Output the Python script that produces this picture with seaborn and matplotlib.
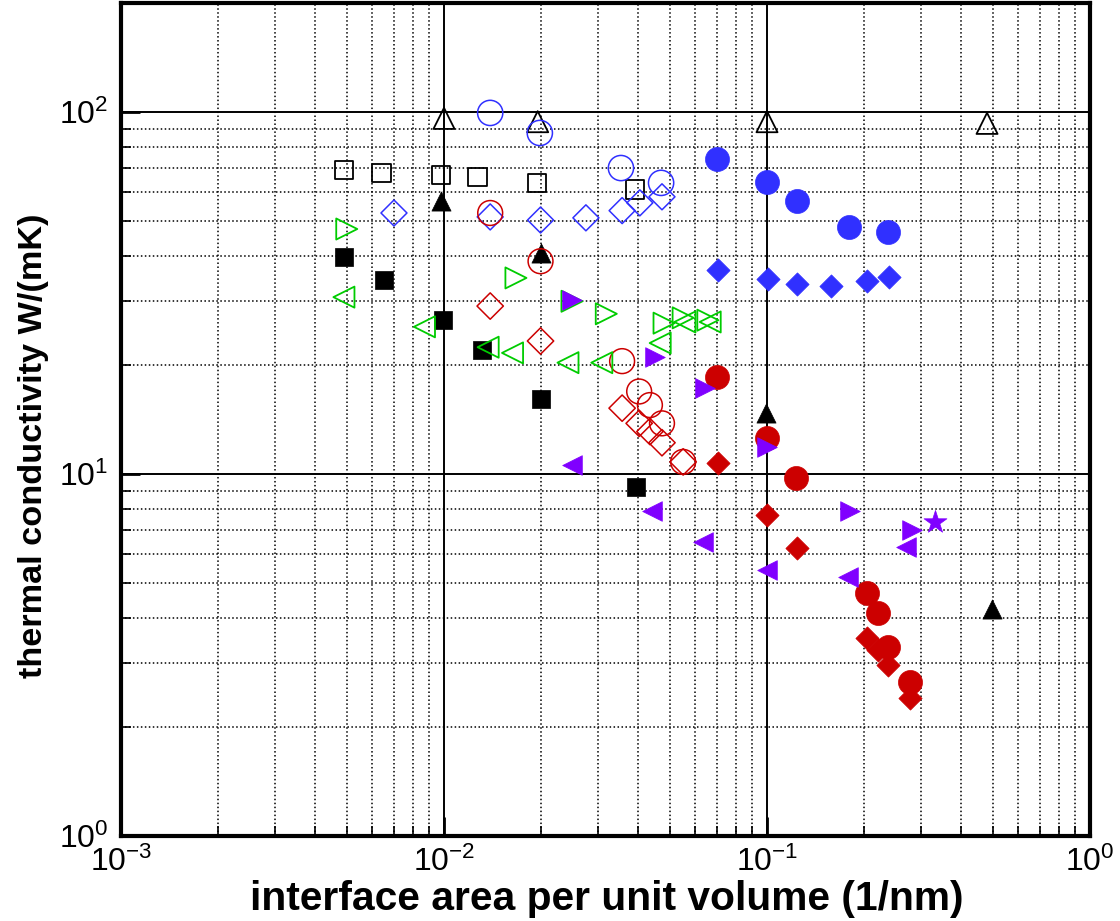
import numpy as np
import matplotlib
matplotlib.use("Agg")
import matplotlib.pyplot as plt
import seaborn as sns
from matplotlib.ticker import LogLocator, LogFormatterSciNotation, NullFormatter

# ---- data: interface density (1/nm) vs thermal conductivity W/(mK) ----
blk_open_tri_x = [0.01, 0.0195, 0.1, 0.48]
blk_open_tri_y = [96, 94, 94, 93]

blk_fill_tri_x = [0.0098, 0.0199, 0.099, 0.498]
blk_fill_tri_y = [56.8, 40.7, 14.7, 4.24]

blk_open_sq_x = [0.0049, 0.0064, 0.0098, 0.0127, 0.0194, 0.039]
blk_open_sq_y = [69.2, 67.8, 67.0, 66.1, 63.7, 61.0]

blk_fill_sq_x = [0.0049, 0.0065, 0.0099, 0.0131, 0.020, 0.0393]
blk_fill_sq_y = [39.7, 34.4, 26.6, 22.0, 16.1, 9.2]

blu_open_circ_x = [0.0139, 0.0198, 0.0353, 0.047]
blu_open_circ_y = [99.4, 87.5, 70.0, 63.7]

blu_open_dia_x = [0.0070, 0.0139, 0.0199, 0.0275, 0.0356, 0.0404, 0.0473]
blu_open_dia_y = [52.6, 51.3, 50.3, 51.0, 53.4, 56.1, 58.3]

blu_fill_circ_x = [0.070, 0.100, 0.124, 0.1795, 0.237]
blu_fill_circ_y = [74.1, 64.1, 56.8, 48.1, 46.6]

blu_fill_dia_x = [0.0707, 0.1007, 0.124, 0.158, 0.204, 0.239]
blu_fill_dia_y = [36.6, 34.6, 33.5, 33.1, 34.1, 35.0]

red_open_circ_x = [0.0139, 0.0199, 0.0356, 0.0402, 0.0434, 0.0473, 0.055]
red_open_circ_y = [52.6, 38.7, 20.5, 16.9, 15.5, 13.8, 10.8]

red_open_dia_x = [0.0139, 0.0199, 0.0356, 0.0402, 0.0434, 0.0473, 0.055]
red_open_dia_y = [29.1, 23.3, 15.2, 13.8, 13.1, 12.2, 10.8]

red_fill_circ_x = [0.070, 0.100, 0.123, 0.204, 0.221, 0.237, 0.277]
red_fill_circ_y = [18.5, 12.6, 9.75, 4.69, 4.13, 3.33, 2.66]

red_fill_dia_x = [0.0707, 0.100, 0.124, 0.204, 0.221, 0.237, 0.277]
red_fill_dia_y = [10.7, 7.71, 6.25, 3.53, 3.27, 2.97, 2.41]

grn_right_tri_x = [0.0050, 0.0167, 0.0249, 0.0318, 0.048, 0.055, 0.0656]
grn_right_tri_y = [47.5, 34.8, 30.0, 27.7, 26.1, 27.0, 26.6]

grn_left_tri_x = [0.0049, 0.0087, 0.0137, 0.0163, 0.0242, 0.0308, 0.0467, 0.0557, 0.0667]
grn_left_tri_y = [30.8, 25.5, 22.4, 21.6, 20.3, 20.3, 23.0, 26.3, 26.3]

pur_right_tri_x = [0.0249, 0.045, 0.0643, 0.100, 0.181, 0.281]
pur_right_tri_y = [30.3, 21.0, 17.3, 11.9, 7.91, 7.0]

pur_left_tri_x = [0.0249, 0.044, 0.0635, 0.100, 0.178, 0.270]
pur_left_tri_y = [10.6, 7.9, 6.49, 5.43, 5.19, 6.29]

pur_star_x = [0.331]
pur_star_y = [7.36]

BLACK = "#000000"
BLUE = "#3030ff"
RED = "#cc0000"
GREEN = "#00cc00"
PURPLE = "#8000ff"

sns.set_theme(style="white")
plt.rcParams["font.family"] = ["Liberation Sans", "DejaVu Sans"]
plt.rcParams["mathtext.fontset"] = "custom"
plt.rcParams["mathtext.rm"] = "Liberation Sans"
plt.rcParams["mathtext.it"] = "Liberation Sans:italic"
plt.rcParams["mathtext.bf"] = "Liberation Sans:bold"
plt.rcParams["text.color"] = "black"
plt.rcParams["xtick.color"] = "black"
plt.rcParams["ytick.color"] = "black"
plt.rcParams["xtick.labelcolor"] = "black"
plt.rcParams["ytick.labelcolor"] = "black"

fig = plt.figure(figsize=(11.2, 9.21), dpi=100)
ax = fig.add_axes([121 / 1120, 1 - 836 / 921, (1090 - 121) / 1120, (836 - 3) / 921])
ax.set_xscale("log")
ax.set_yscale("log")
ax.set_xlim(1e-3, 1)
ax.set_ylim(1, 200)

# grid: solid at decades, dotted at minor positions
ax.grid(which="major", color="black", linestyle="-", linewidth=1.4)
ax.grid(which="minor", color="black", linestyle=(0, (1, 1.6)), linewidth=1.1)
ax.set_axisbelow(True)


def draw(x, y, marker, color, size, filled=True, lw=1.3):
    if filled:
        sns.scatterplot(x=x, y=y, marker=marker, s=size, color=color,
                        edgecolor=color, linewidth=0.5, ax=ax, zorder=3)
    else:
        sns.scatterplot(x=x, y=y, marker=marker, s=size, facecolor="none",
                        edgecolor=color, linewidth=lw, ax=ax, zorder=3)


draw(blk_open_tri_x, blk_open_tri_y, "^", BLACK, 230, filled=False)
draw(blk_fill_tri_x, blk_fill_tri_y, "^", BLACK, 190)
draw(blk_open_sq_x, blk_open_sq_y, "s", BLACK, 180, filled=False)
draw(blk_fill_sq_x, blk_fill_sq_y, "s", BLACK, 170)
draw(blu_open_circ_x, blu_open_circ_y, "o", BLUE, 330, filled=False, lw=1.1)
draw(blu_open_dia_x, blu_open_dia_y, "D", BLUE, 175, filled=False, lw=1.1)
draw(blu_fill_circ_x, blu_fill_circ_y, "o", BLUE, 300)
draw(blu_fill_dia_x, blu_fill_dia_y, "D", BLUE, 140)
draw(red_open_circ_x, red_open_circ_y, "o", RED, 320, filled=False, lw=1.1)
draw(red_open_dia_x, red_open_dia_y, "D", RED, 180, filled=False, lw=1.1)
draw(red_fill_circ_x, red_fill_circ_y, "o", RED, 300)
draw(red_fill_dia_x, red_fill_dia_y, "D", RED, 140)
draw(grn_right_tri_x, grn_right_tri_y, ">", GREEN, 230, filled=False)
draw(grn_left_tri_x, grn_left_tri_y, "<", GREEN, 230, filled=False)
draw(pur_right_tri_x, pur_right_tri_y, ">", PURPLE, 200)
draw(pur_left_tri_x, pur_left_tri_y, "<", PURPLE, 200)
draw(pur_star_x, pur_star_y, "*", PURPLE, 300)

# ticks
ax.xaxis.set_major_locator(LogLocator(base=10, numticks=10))
ax.yaxis.set_major_locator(LogLocator(base=10, numticks=10))
ax.xaxis.set_minor_locator(LogLocator(base=10, subs=np.arange(2, 10), numticks=20))
ax.yaxis.set_minor_locator(LogLocator(base=10, subs=np.arange(2, 10), numticks=20))
ax.xaxis.set_major_formatter(LogFormatterSciNotation())
ax.yaxis.set_major_formatter(LogFormatterSciNotation())
ax.xaxis.set_minor_formatter(NullFormatter())
ax.yaxis.set_minor_formatter(NullFormatter())
ax.tick_params(which="both", direction="in", bottom=True, left=True,
               top=False, right=False, color="black", labelcolor="black")
ax.tick_params(which="major", length=14, width=2, labelsize=23, pad=9)
ax.tick_params(which="minor", length=7, width=1.2)
ax.tick_params(axis="x", which="major", pad=8)

for sp in ax.spines.values():
    sp.set_color("black")
    sp.set_linewidth(3)

ax.set_xlabel("")
ax.set_ylabel("")
fig.text(0.542, 0.024, "interface area per unit volume (1/nm)",
         ha="center", va="center", fontsize=29.3, fontweight="bold", color="black")
fig.text(0.030, 0.516, "thermal conductivity W/(mK)", rotation=90,
         ha="center", va="center", fontsize=24.7, fontweight="bold", color="black")

fig.savefig("out.png", dpi=100)
